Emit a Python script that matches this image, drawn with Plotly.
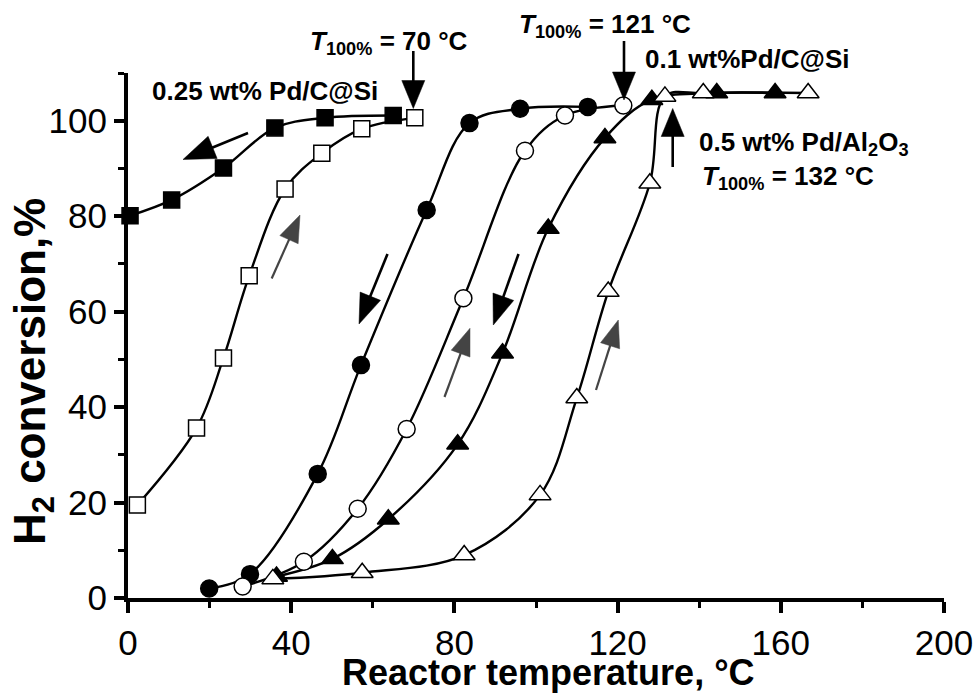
import plotly.graph_objects as go

# ---------------- data ----------------
# 0.25 wt% Pd/C@Si, cooling (filled squares)
sq_cool_T = [0.5, 10.7, 23.4, 36.0, 48.3, 65.0]
sq_cool_X = [80.1, 83.4, 90.1, 98.5, 100.6, 101.1]
# 0.25 wt% Pd/C@Si, heating (open squares)
sq_heat_T = [2.3, 16.8, 23.4, 29.7, 38.5, 47.5, 57.3, 70.3]
sq_heat_X = [19.5, 35.6, 50.3, 67.5, 85.7, 93.2, 98.3, 100.6]
# 0.1 wt% Pd/C@Si, cooling (filled circles)
ci_cool_T = [19.9, 29.9, 46.5, 57.1, 73.2, 83.7, 96.1, 112.7]
ci_cool_X = [2.0, 5.0, 26.0, 48.8, 81.3, 99.5, 102.5, 102.9]
# 0.1 wt% Pd/C@Si, heating (open circles)
ci_heat_T = [28.1, 43.1, 56.3, 68.3, 82.2, 97.3, 107.1, 121.4]
ci_heat_X = [2.4, 7.6, 18.7, 35.4, 62.8, 93.7, 101.1, 103.2]
# 0.5 wt% Pd/Al2O3, cooling (filled triangles)
tr_cool_T = [36.4, 50.1, 63.8, 80.8, 91.8, 103.0, 116.9, 128.4, 144.3, 158.6]
tr_cool_X = [4.5, 8.2, 16.5, 32.2, 51.3, 77.4, 96.4, 104.4, 105.8, 105.8]
# 0.5 wt% Pd/Al2O3, heating (open triangles)
tr_heat_T = [35.5, 57.4, 82.4, 101.0, 110.0, 117.7, 127.9, 131.6, 141.0, 166.7]
tr_heat_X = [4.0, 5.3, 9.0, 21.6, 41.9, 64.2, 86.9, 105.1, 105.8, 105.8]

x_ticks = [0, 40, 80, 120, 160, 200]
y_ticks = [0, 20, 40, 60, 80, 100]

series = [
    (sq_cool_T, sq_cool_X, "square", "black", 16),
    (sq_heat_T, sq_heat_X, "square", "white", 16),
    (ci_cool_T, ci_cool_X, "circle", "black", 17),
    (ci_heat_T, ci_heat_X, "circle", "white", 17),
    (tr_cool_T, tr_cool_X, "triangle-up", "black", 19),
    (tr_heat_T, tr_heat_X, "triangle-up", "white", 19),
]

# ---------------- layout geometry ----------------
W, H = 974, 693
ML, MR, MT, MB = 128, 30, 73, 95
PW, PH = W - ML - MR, H - MT - MB
XR, YR = [0, 200], [0, 110]
FONT = "Liberation Sans, Arial, sans-serif"


def px_(px):   # page pixel -> paper x
    return (px - ML) / PW


def py_(py):   # page pixel -> paper y
    return (H - MB - py) / PH


fig = go.Figure()

for T, X, sym, fc, sz in series:
    fig.add_trace(go.Scatter(x=T, y=X, mode="lines",
                             line=dict(color="black", width=2.4, shape="spline", smoothing=1.0),
                             showlegend=False, hoverinfo="skip", cliponaxis=False))
for T, X, sym, fc, sz in series:
    fig.add_trace(go.Scatter(x=T, y=X, mode="markers",
                             marker=dict(symbol=sym, size=sz, color=fc,
                                         line=dict(color="black", width=1.5)),
                             showlegend=False, cliponaxis=False))

# ---------------- arrows (page pixel tail -> tip) ----------------
arrows = [
    ((248, 133), (183, 159.5), "black", 2.6, 32, 24),
    ((413.3, 51), (413.3, 108.5), "black", 2.6, 28, 23),
    ((624, 41), (624, 100), "black", 2.6, 28, 23),
    ((672.7, 167), (672.7, 108.5), "black", 2.6, 28, 23),
    ((387.5, 254), (359, 324), "black", 2.6, 30, 22),
    ((518.5, 254), (493.3, 325), "black", 2.6, 30, 22),
    ((271.7, 278.5), (300, 215), "#444444", 2.2, 27, 20),
    ((444.5, 397), (470, 328.3), "#444444", 2.2, 27, 20),
    ((596, 390), (618.3, 320), "#444444", 2.2, 27, 20),
]
shapes = []
for (tx, ty), (hx, hy), col, lw, hl, hw in arrows:
    vx, vy = hx - tx, hy - ty
    L = (vx ** 2 + vy ** 2) ** 0.5
    ux, uy = vx / L, vy / L
    bx, by = hx - ux * hl, hy - uy * hl
    nx, ny = -uy, ux
    p1 = (bx + nx * hw / 2, by + ny * hw / 2)
    p2 = (bx - nx * hw / 2, by - ny * hw / 2)
    shapes.append(dict(type="line", xref="paper", yref="paper",
                       x0=px_(tx), y0=py_(ty), x1=px_(bx + ux * 2), y1=py_(by + uy * 2),
                       line=dict(color=col, width=lw)))
    path = "M{},{} L{},{} L{},{} Z".format(px_(hx), py_(hy), px_(p1[0]), py_(p1[1]),
                                          px_(p2[0]), py_(p2[1]))
    shapes.append(dict(type="path", xref="paper", yref="paper", path=path,
                       fillcolor=col, line=dict(color=col, width=0.5)))

# ---------------- text annotations ----------------
texts = [
    ("<b>0.25 wt% Pd/C@Si</b>", 150, 91),
    ("<b><i>T</i><sub>100%</sub> = 70 °C</b>", 308, 42),
    ("<b><i>T</i><sub>100%</sub> = 121 °C</b>", 517, 26),
    ("<b>0.1 wt%Pd/C@Si</b>", 643, 59),
    ("<b>0.5 wt% Pd/Al<sub>2</sub>O<sub>3</sub></b>", 697, 143),
    ("<b><i>T</i><sub>100%</sub> = 132 °C</b>", 700, 178),
]
annotations = []
for txt, px, py in texts:
    annotations.append(dict(text=txt, x=px_(px), y=py_(py), xref="paper", yref="paper",
                            xanchor="left", yanchor="middle", showarrow=False,
                            font=dict(family=FONT, size=26, color="black")))

annotations.append(dict(text="<b>Reactor temperature, °C</b>", xref="paper", yref="paper",
                        x=px_(548), y=py_(672), xanchor="center", yanchor="middle",
                        showarrow=False, font=dict(family=FONT, size=36, color="black")))
annotations.append(dict(text="<b>H<sub>2</sub> conversion,%</b>", xref="paper", yref="paper",
                        x=px_(33), y=py_(372), xanchor="center", yanchor="middle",
                        textangle=-90, showarrow=False,
                        font=dict(family=FONT, size=44, color="black")))

axis_common = dict(showgrid=False, zeroline=False, showline=True, linewidth=4, linecolor="black",
                   ticks="outside", tickwidth=3.5, tickcolor="black", ticklabeloverflow="allow",
                   automargin=False,
                   tickfont=dict(family=FONT, size=35, color="black"))

fig.update_layout(
    width=W, height=H, autosize=False,
    margin=dict(l=ML, r=MR, t=MT, b=MB, autoexpand=False),
    paper_bgcolor="white", plot_bgcolor="white",
    xaxis=dict(range=XR, tickvals=x_ticks, ticklen=11,
               minor=dict(dtick=20, tick0=0, ticks="outside", ticklen=6, tickwidth=3, tickcolor="black"),
               **axis_common),
    yaxis=dict(range=YR, tickvals=y_ticks, ticklen=10,
               minor=dict(dtick=10, tick0=0, ticks="outside", ticklen=6, tickwidth=3, tickcolor="black"),
               **axis_common),
    shapes=shapes,
    annotations=annotations,
)

fig.write_html("out.html", config={"displayModeBar": False},
               post_script="document.body.style.margin='0px';")
